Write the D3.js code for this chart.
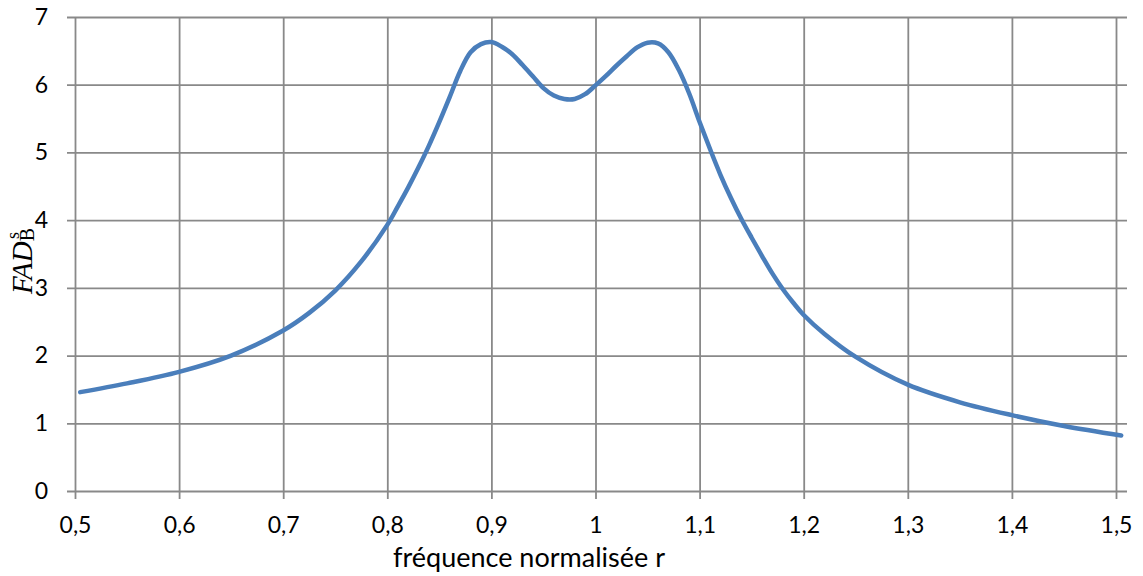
<!DOCTYPE html>
<html>
<head>
<meta charset="utf-8">
<script src="https://cdn.jsdelivr.net/npm/d3@7"></script>
<style>
  html, body { margin: 0; padding: 0; background: #ffffff; }
  svg { display: block; }
  .tick text { font-family: Lato, "Open Sans", sans-serif; font-size: 23px; fill: #000; }
</style>
</head>
<body>
<svg id="chart" width="1143" height="576"></svg>
<script>
// Normalised frequency r and the corresponding amplification factor FAD_B^s
const rValues = [
  0.505, 0.55, 0.60, 0.65, 0.70, 0.725, 0.75, 0.775, 0.80, 0.81,
  0.82, 0.83, 0.84, 0.85, 0.86, 0.87, 0.88, 0.89, 0.90, 0.91,
  0.92, 0.93, 0.94, 0.95, 0.96, 0.97, 0.98, 0.99, 1.00, 1.01,
  1.02, 1.03, 1.04, 1.05, 1.06, 1.07, 1.08, 1.09, 1.10, 1.11,
  1.12, 1.13, 1.14, 1.15, 1.16, 1.17, 1.18, 1.19, 1.20, 1.22,
  1.25, 1.30, 1.35, 1.40, 1.45, 1.505
];
const fadValues = [
  1.46, 1.59, 1.76, 2.00, 2.37, 2.63, 2.96, 3.39, 3.93, 4.20,
  4.48, 4.78, 5.10, 5.45, 5.82, 6.20, 6.48, 6.60, 6.63, 6.56,
  6.45, 6.29, 6.12, 5.95, 5.84, 5.79, 5.79, 5.86, 5.99, 6.13,
  6.28, 6.42, 6.55, 6.62, 6.61, 6.48, 6.22, 5.87, 5.45, 5.05,
  4.67, 4.33, 4.02, 3.74, 3.47, 3.21, 2.98, 2.78, 2.60, 2.32,
  1.98, 1.57, 1.31, 1.12, 0.96, 0.82
];

// Axis ticks and their labels (decimal comma)
const xTicks = [0.5, 0.6, 0.7, 0.8, 0.9, 1.0, 1.1, 1.2, 1.3, 1.4, 1.5];
const xTickLabels = ["0,5", "0,6", "0,7", "0,8", "0,9", "1", "1,1", "1,2", "1,3", "1,4", "1,5"];
const yTicks = [0, 1, 2, 3, 4, 5, 6, 7];
const yTickLabels = ["0", "1", "2", "3", "4", "5", "6", "7"];

const xTitle = "fréquence normalisée r";

const svg = d3.select("#chart");

const plot = { left: 75, right: 1116, top: 17, bottom: 491 };
const gridColor = "#898989";

const x = d3.scaleLinear().domain([0.5, 1.5]).range([plot.left, plot.right]);
const y = d3.scaleLinear().domain([0, 7]).range([plot.bottom, plot.top]);

// Horizontal grid + y labels (lines stick out a bit on both sides)
const yAxisX = 67, gridRight = 1127;
const yAxis = d3.axisLeft(y)
  .tickValues(yTicks)
  .tickFormat((d, i) => yTickLabels[i])
  .tickSize(-(gridRight - yAxisX))
  .tickPadding(19);
const gy = svg.append("g")
  .attr("transform", `translate(${yAxisX},0)`)
  .call(yAxis);
gy.select(".domain").remove();
gy.selectAll(".tick line").attr("stroke", gridColor).attr("stroke-width", 1.8);

// Vertical grid + x labels
const xAxisY = 499;
const xAxis = d3.axisBottom(x)
  .tickValues(xTicks)
  .tickFormat((d, i) => xTickLabels[i])
  .tickSize(-(xAxisY - plot.top))
  .tickPadding(18);
const gx = svg.append("g")
  .attr("transform", `translate(0,${xAxisY})`)
  .call(xAxis);
gx.select(".domain").remove();
gx.selectAll(".tick line").attr("stroke", gridColor).attr("stroke-width", 1.8);

// Response curve
const points = rValues.map((r, i) => [r, fadValues[i]]);
const line = d3.line()
  .x(d => x(d[0]))
  .y(d => y(d[1]))
  .curve(d3.curveCatmullRom.alpha(0.5));

svg.append("path")
  .datum(points)
  .attr("fill", "none")
  .attr("stroke", "#4a7ebb")
  .attr("stroke-width", 4.5)
  .attr("stroke-linecap", "round")
  .attr("stroke-linejoin", "round")
  .attr("d", line);

// X axis title
svg.append("text")
  .attr("x", 529)
  .attr("y", 567)
  .attr("text-anchor", "middle")
  .style("font-family", "Lato, 'Open Sans', sans-serif")
  .style("font-size", "27px")
  .text(xTitle);

// Y axis title: FAD with subscript B and superscript s stacked
const yt = svg.append("text")
  .attr("transform", "translate(32,294) rotate(-90)")
  .style("font-family", "'Liberation Serif', 'DejaVu Serif', serif")
  .style("font-size", "29px");
yt.append("tspan").style("font-style", "italic").text("FAD");
yt.append("tspan").attr("dy", 2).style("font-size", "20px").text("B");
yt.append("tspan").attr("dx", -11).attr("dy", -15).style("font-size", "18px").text("s");
</script>
</body>
</html>
